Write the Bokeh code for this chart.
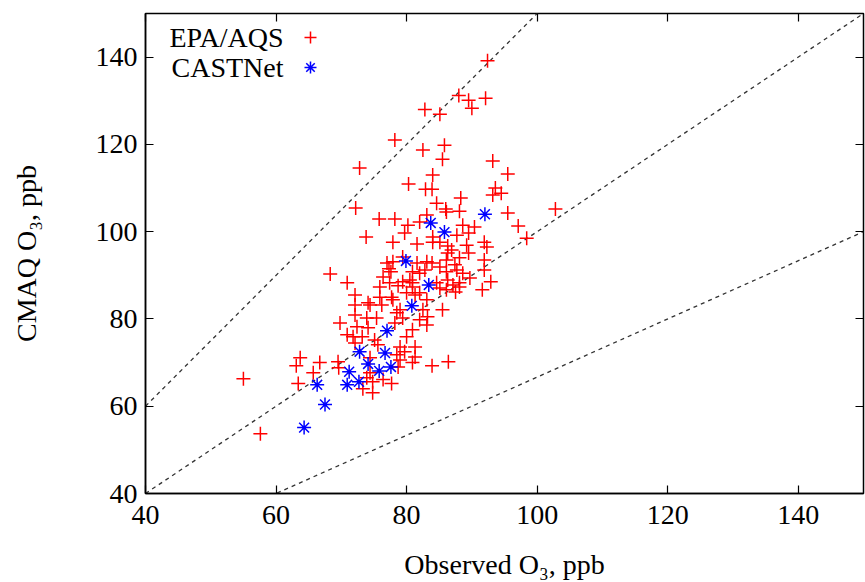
from bokeh.plotting import figure
from bokeh.models import Range1d, FixedTicker, LinearAxis, Label, Legend, LegendItem
from bokeh.embed import file_html
from bokeh.resources import INLINE

# EPA/AQS sites (observed, modelled) in ppb
epa_obs = [92.4, 88.0, 89.5, 90.0, 92.1, 82.8, 85.1, 78.2, 85.8, 82.5, 85.5, 93.2, 72.8, 84.0, 95.5,
           80.3, 82.9, 83.9, 93.6, 93.2, 94.5, 88.3, 72.2, 84.6, 86.0, 88.1, 95.5, 102.8, 75.8, 78.2,
           80.2, 82.0, 83.1, 88.6, 90.4, 89.5, 97.1, 98.4, 73.8, 77.9, 79.7, 81.6, 84.0, 85.1, 86.3,
           87.7, 89.2, 91.9, 92.3, 86.1, 84.0, 86.9, 86.3, 89.5, 86.1, 77.9, 77.0, 81.6, 83.1, 83.9,
           85.1, 87.4, 91.9, 87.7, 88.6, 91.9, 89.7, 77.6, 82.0, 86.3, 92.9, 87.5, 68.3, 70.9, 76.4,
           77.4, 79.4, 80.9, 82.8, 85.1, 86.1, 80.0, 82.0, 72.1, 79.4, 77.3, 78.7, 75.9, 80.9, 81.3,
           77.7, 88.1, 86.1, 80.9, 84.6, 88.1, 91.6, 80.5, 88.1, 87.1, 74.1, 75.9, 77.9, 76.2, 79.0,
           83.1, 82.5, 85.5, 83.2, 83.1, 82.0, 80.9, 79.4, 78.2, 72.1, 73.9, 75.4, 69.8, 72.4, 74.1,
           70.9, 71.8, 79.0, 81.3, 75.1, 80.0, 75.6, 63.7, 63.1, 66.7, 69.5, 65.7, 80.9, 83.9, 86.4,
           79.0, 73.9, 74.8, 77.7, 73.3, 74.8, 63.4, 55.0, 57.6, 69.6, 73.2, 78.5, 79.7, 81.3, 74.4,
           76.4, 74.4, 78.5, 72.1, 72.1, 74.4, 78.7]
epa_cmaq = [139.2, 131.2, 130.1, 128.3, 130.6, 128.0, 126.9, 121.0, 119.8, 118.7, 116.6, 116.2, 114.6, 113.0, 113.2,
            110.9, 109.7, 109.7, 110.0, 108.4, 108.8, 107.7, 105.4, 106.5, 105.2, 104.7, 104.3, 105.2, 102.9, 102.9,
            101.5, 102.2, 103.8, 101.5, 101.1, 99.7, 101.3, 98.5, 98.8, 97.6, 99.7, 97.2, 97.6, 97.6, 96.7,
            99.2, 96.9, 97.6, 96.5, 104.5, 98.8, 95.8, 95.1, 95.1, 93.5, 93.1, 92.8, 92.8, 93.1, 92.8,
            91.9, 92.4, 93.5, 91.2, 90.5, 91.2, 89.4, 90.8, 90.5, 88.9, 88.5, 86.2, 90.3, 88.3, 89.6,
            88.3, 88.5, 88.3, 91.2, 87.1, 86.7, 86.0, 86.0, 85.5, 94.2, 91.5, 87.6, 87.3, 87.3, 85.5,
            85.0, 94.0, 90.8, 90.8, 88.3, 87.3, 86.7, 88.9, 88.3, 87.8, 83.7, 85.0, 84.4, 83.2, 82.1,
            84.4, 82.1, 82.1, 80.5, 78.6, 79.8, 77.5, 80.2, 79.1, 80.9, 80.2, 80.2, 79.1, 78.2, 78.0,
            76.4, 75.9, 73.6, 73.6, 75.2, 75.9, 74.1, 71.1, 69.3, 70.0, 70.2, 67.7, 70.0, 69.3, 70.2,
            70.6, 66.5, 65.6, 65.2, 64.0, 63.1, 65.2, 66.3, 53.7, 68.8, 75.9, 71.8, 72.5, 71.3, 71.1,
            66.1, 83.2, 81.4, 83.2, 74.5, 67.7, 69.0]

# CASTNet sites
castnet_obs = [92.0, 83.7, 85.8, 79.9, 83.4, 80.8, 77.0, 72.8, 76.7, 74.1, 75.8, 77.6, 71.2, 72.7, 70.9, 66.3, 67.5, 64.3]
castnet_cmaq = [104.0, 102.0, 99.9, 93.3, 87.8, 83.0, 77.3, 72.5, 72.2, 69.7, 68.1, 69.0, 67.9, 65.6, 64.9, 64.9, 60.4, 55.1]

ticks = [40, 60, 80, 100, 120, 140]
ratios = [1.5, 1.0, 1 / 1.5]   # reference lines y = r * x
axis_min, axis_max = 40, 150

FONT = "Liberation Serif"
FS = "28px"

p = figure(width=865, height=582, output_backend="svg", toolbar_location=None,
           x_range=Range1d(axis_min, axis_max), y_range=Range1d(axis_min, axis_max),
           min_border_left=145, min_border_right=2, min_border_top=13, min_border_bottom=88)
p.grid.visible = False
p.outline_line_color = "black"
p.outline_line_width = 1.5
p.background_fill_color = "white"
p.border_fill_color = "white"

for ax in (p.xaxis[0], p.yaxis[0]):
    ax.ticker = FixedTicker(ticks=ticks)
    ax.major_tick_in = 8
    ax.major_tick_out = 0
    ax.minor_tick_line_color = None
    ax.axis_line_color = "black"
    ax.axis_line_width = 1.5
    ax.major_tick_line_color = "black"
    ax.major_tick_line_width = 1.2
    ax.major_label_text_font = FONT
    ax.major_label_text_font_size = FS
    ax.major_label_text_color = "black"
    ax.axis_label_text_font = FONT
    ax.axis_label_text_font_size = FS
    ax.axis_label_text_font_style = "normal"
    ax.axis_label_text_color = "black"

p.xaxis[0].axis_label = "Observed O\u2083, ppb"
p.yaxis[0].axis_label = "CMAQ O\u2083, ppb"
p.xaxis[0].major_label_standoff = 12
p.xaxis[0].axis_label_standoff = 22
p.yaxis[0].major_label_standoff = 8
p.yaxis[0].axis_label_standoff = 51

for loc in ("above", "right"):
    a = LinearAxis(ticker=FixedTicker(ticks=ticks), major_tick_in=8, major_tick_out=0,
                   minor_tick_line_color=None, axis_line_color=None,
                   major_tick_line_color="black", major_tick_line_width=1.2,
                   major_label_text_color=None, major_label_text_font_size="1px",
                   major_label_standoff=0)
    p.add_layout(a, loc)

# reference lines
for r in ratios:
    p.line([axis_min, axis_max], [r * axis_min, r * axis_max], line_color="#333333",
           line_width=1.3, line_dash="4 4")

epa = p.scatter(epa_obs, epa_cmaq, marker="cross", size=14, line_color="red",
                line_width=1.5, fill_color=None)
cas = p.scatter(castnet_obs, castnet_cmaq, marker="asterisk", size=14, line_color="blue",
                line_width=1.5, fill_color=None)

# legend: glyph keys only, text drawn as right-aligned labels (gnuplot style)
legend = Legend(items=[LegendItem(label=" ", renderers=[epa]), LegendItem(label=" ", renderers=[cas])],
                location=(150, 411), glyph_width=30, glyph_height=30, label_width=0,
                label_height=30, label_standoff=0, label_text_font_size="1px",
                label_text_color=None, spacing=0,
                padding=0, margin=0, border_line_color=None, background_fill_alpha=0)
p.add_layout(legend, "center")

for txt, yy in (("EPA/AQS", 456), ("CASTNet", 426)):
    p.add_layout(Label(x=138, y=yy, x_units="screen", y_units="screen", text=txt,
                       text_align="right", text_baseline="middle", text_font=FONT,
                       text_font_size=FS, text_color="black"))

open("out.html", "w").write(file_html(p, INLINE))
